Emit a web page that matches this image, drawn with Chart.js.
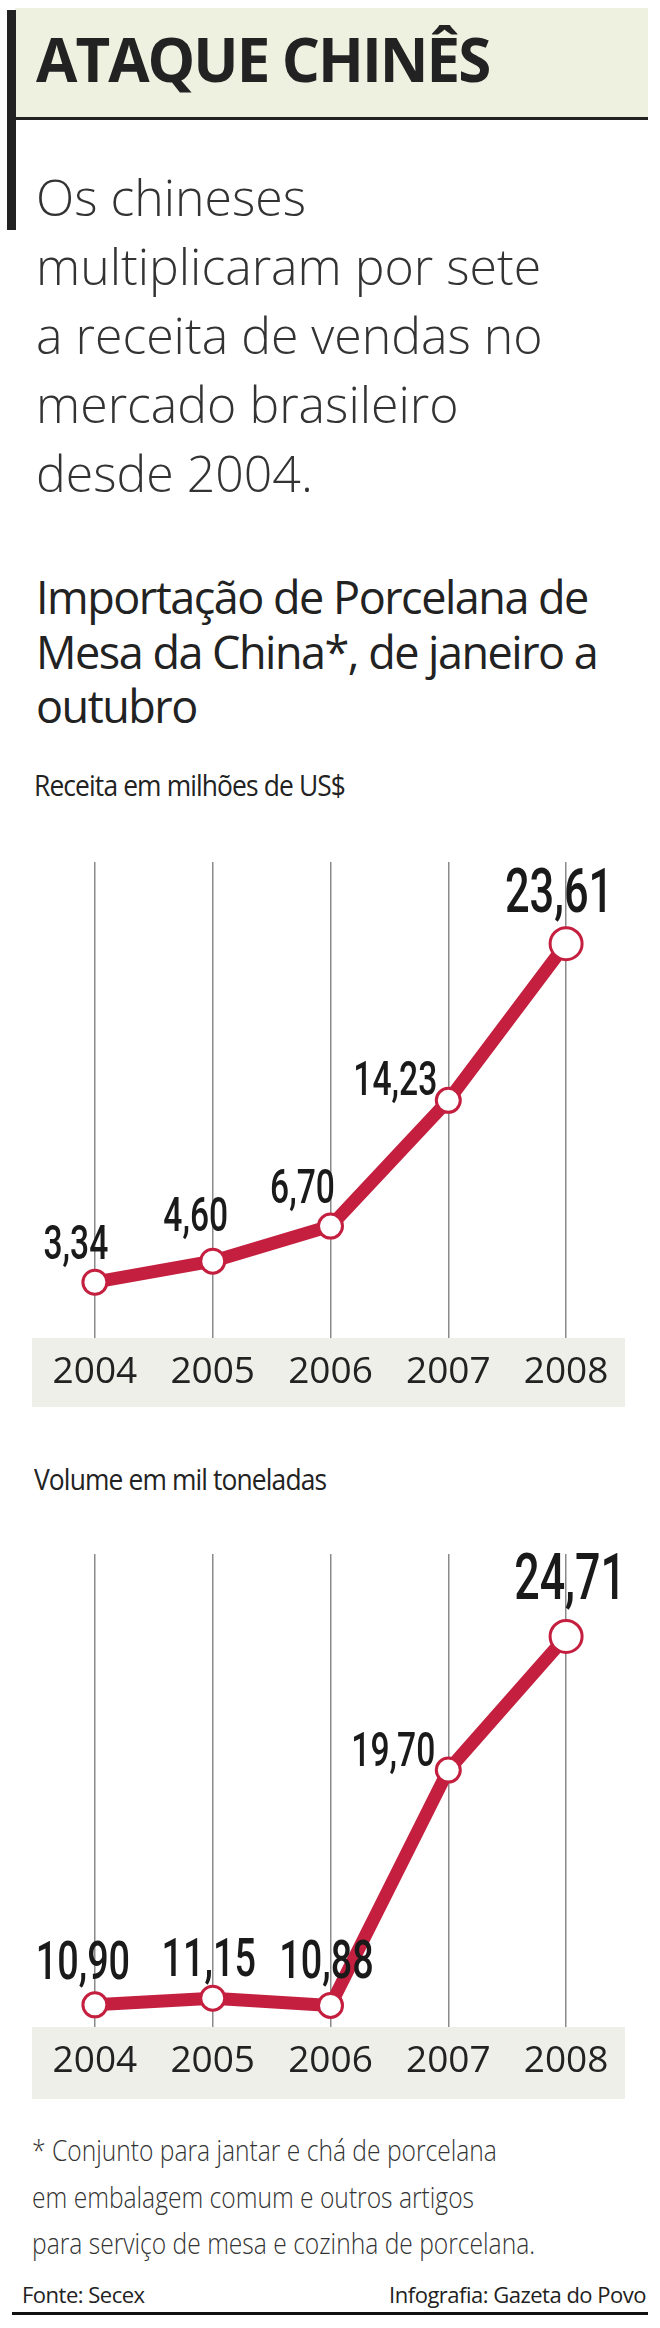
<!DOCTYPE html>
<html>
<head>
<meta charset="utf-8">
<script src="https://cdn.jsdelivr.net/npm/chart.js@4"></script>
<style>
  body { margin: 0; background: #fff; width: 660px; height: 2328px; position: relative; overflow: hidden; font-family: "Open Sans", sans-serif; color: #222; }
  .abs { position: absolute; }
  .band { left: 15px; top: 8px; width: 633px; height: 109px; background: #eef0e0; border-bottom: 3px solid #222; }
  .bar { left: 7px; top: 10px; width: 9px; height: 220px; background: #222; }
  .title { left: 36px; top: 29px; font-size: 60px; line-height: 1; font-weight: 700; letter-spacing: -2px; white-space: nowrap; }
  .sub { left: 36px; top: 163px; font-size: 50px; line-height: 69px; font-weight: 300; color: #333; }
  .ctitle { left: 36px; top: 570px; font-size: 45px; line-height: 54.5px; font-weight: 500; letter-spacing: -1.5px; }
  .unit { left: 34px; font-size: 30px; line-height: 1; letter-spacing: -1px; transform: scaleX(0.88); transform-origin: left; white-space: nowrap; }
  .note { left: 32px; top: 2127px; font-size: 30px; line-height: 46.5px; font-weight: 300; color: #333; transform: scaleX(0.82); transform-origin: left; white-space: nowrap; }
  .foot { top: 2283px; font-size: 22px; line-height: 1; letter-spacing: -0.5px; white-space: nowrap; }
  .rule { left: 12px; top: 2312px; width: 636px; height: 3px; background: #111; }
  canvas { position: absolute; left: 0; }
</style>
</head>
<body>
<div class="abs band"></div>
<div class="abs bar"></div>
<div class="abs title">ATAQUE CHINÊS</div>
<div class="abs sub">Os chineses<br>multiplicaram por sete<br>a receita de vendas no<br>mercado brasileiro<br>desde 2004.</div>
<div class="abs ctitle">Importação de Porcelana de<br>Mesa da China*, de janeiro a<br>outubro</div>
<div class="abs unit" style="top:770px">Receita em milhões de US$</div>
<div class="abs unit" style="top:1464px">Volume em mil toneladas</div>
<div class="abs note">* Conjunto para jantar e chá de porcelana<br>em embalagem comum e outros artigos<br>para serviço de mesa e cozinha de porcelana.</div>
<div class="abs foot" style="left:22px">Fonte: Secex</div>
<div class="abs foot" style="right:14px">Infografia: Gazeta do Povo</div>
<div class="abs rule"></div>

<div style="position:absolute;left:0;top:843px;width:660px;height:564px"><canvas id="receita"></canvas></div>
<div style="position:absolute;left:0;top:1535px;width:660px;height:564px"><canvas id="volume"></canvas></div>

<script>
const years = ['2004', '2005', '2006', '2007', '2008'];
const receita = [3.34, 4.60, 6.70, 14.23, 23.61];
const volume = [10.90, 11.15, 10.88, 19.70, 24.71];

const RED = '#c51f3f';

// gray band behind the years + value labels above the points
const decor = {
  id: 'decor',
  beforeDraw(chart) {
    const { ctx, chartArea } = chart;
    ctx.save();
    ctx.fillStyle = '#efefe9';
    ctx.fillRect(32, chartArea.bottom, 593, chart.height - chartArea.bottom);
    ctx.restore();
  },
  afterDatasetsDraw(chart, args, opts) {
    const { ctx } = chart;
    const meta = chart.getDatasetMeta(0);
    const data = chart.data.datasets[0].data;
    ctx.save();
    ctx.fillStyle = '#1a1a1a';
    ctx.textAlign = 'center';
    ctx.textBaseline = 'alphabetic';
    meta.data.forEach((pt, i) => {
      const txt = data[i].toFixed(2).replace('.', ',');
      ctx.save();
      ctx.translate(pt.x + opts.dx[i], pt.y + opts.dy[i]);
      ctx.scale(0.7, 1);
      ctx.font = '500 ' + opts.size[i] + 'px Roboto';
      ctx.fillText(txt, 0, 0);
      ctx.restore();
    });
    ctx.restore();
  }
};

function makeChart(id, values, yMin, yMax, axisH, labelOpts) {
  return new Chart(document.getElementById(id), {
    type: 'line',
    data: {
      labels: years,
      datasets: [{
        data: values,
        borderColor: RED,
        borderWidth: 13,
        borderJoinStyle: 'round',
        tension: 0,
        pointBackgroundColor: '#fff',
        pointBorderColor: RED,
        pointBorderWidth: 3,
        pointRadius: [12, 12, 12, 12, 16],
        clip: false
      }]
    },
    options: {
      responsive: true,
      maintainAspectRatio: false,
      animation: false,
      layout: { padding: { left: 36, right: 35, top: 0, bottom: 0 } },
      plugins: { legend: { display: false }, tooltip: { enabled: false }, decor: labelOpts },
      scales: {
        x: {
          offset: true,
          border: { display: false },
          grid: { color: '#8a8a8a', lineWidth: 1.5, drawTicks: false, offset: false },
          ticks: { color: '#222', padding: 16, font: { family: 'Open Sans', size: 37, weight: '500', lineHeight: 1 } },
          afterFit(scale) { scale.height = axisH; }
        },
        y: { display: false, min: yMin, max: yMax }
      }
    },
    plugins: [decor]
  });
}

makeChart('receita', receita, 0, 28.5, 69, {
  dx: [-19, -17, -28, -53, -7],
  dy: [-23, -30, -23, -5, -32],
  size: [48, 48, 48, 48, 62]
});
makeChart('volume', volume, 10.07, 27.8, 72, {
  dx: [-12, -4, -4, -55, 4],
  dy: [-26, -22, -27, -4, -37],
  size: [54, 54, 54, 48, 64]
});
</script>
</body>
</html>
